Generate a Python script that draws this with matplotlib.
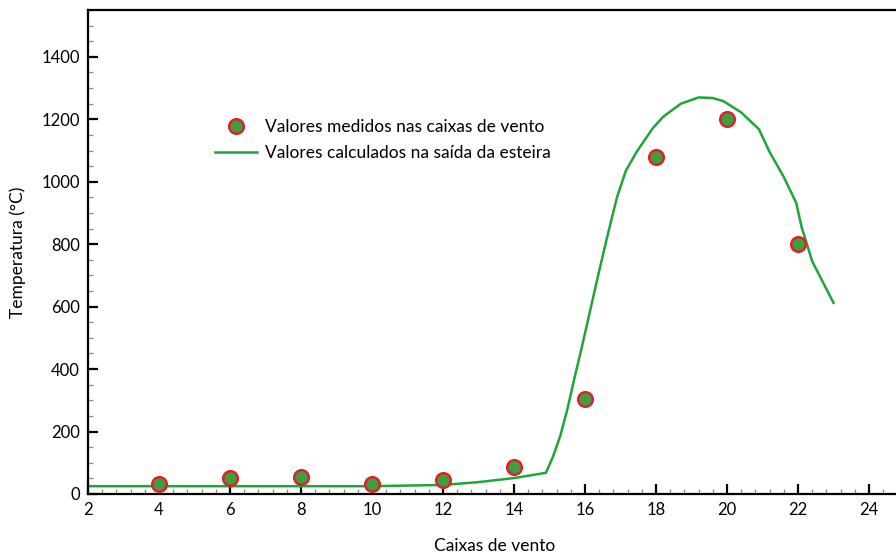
import numpy as np
import matplotlib.pyplot as plt
from matplotlib.ticker import MultipleLocator

plt.rcParams['font.family'] = ['Lato', 'DejaVu Sans']

# measured values at the wind boxes
box_x = [4, 6, 8, 10, 12, 14, 16, 18, 20, 22]
box_temp = [32, 51, 54, 32, 45, 86, 304, 1080, 1200, 801]

# calculated values at the strand exit
calc_x = [2, 10, 12, 13, 14, 14.9, 15.1, 15.3, 15.5, 15.7, 15.9, 16.15, 16.4,
          16.65, 16.9, 17.15, 17.45, 17.9, 18.2, 18.7, 19.2, 19.6, 19.9, 20.4,
          20.9, 21.2, 21.6, 21.95, 22.1, 22.4, 23.0]
calc_temp = [25, 25, 29, 38, 51, 68, 120, 185, 270, 370, 465, 590, 715,
             835, 950, 1035, 1095, 1170, 1208, 1250, 1270, 1268, 1258, 1222,
             1168, 1095, 1015, 932, 855, 745, 612]

fig = plt.figure(figsize=(8.96, 5.52), dpi=100)
ax = fig.add_axes([88 / 896, 1 - 494 / 552, 1 - 88 / 896, (494 - 10) / 552])

ax.plot(calc_x, calc_temp, color='#1fa53a', lw=1.8,
        label='Valores calculados na saída da esteira', zorder=2)
ax.plot(box_x, box_temp, 'o', ms=10.5, mfc='#3f9e3f', mec='#e02228', mew=1.8,
        label='Valores medidos nas caixas de vento', zorder=3)

ax.set_xlim(2, 24.76)
ax.set_ylim(0, 1550)
ax.xaxis.set_major_locator(MultipleLocator(2))
ax.xaxis.set_minor_locator(MultipleLocator(0.4))
ax.yaxis.set_major_locator(MultipleLocator(200))
ax.yaxis.set_minor_locator(MultipleLocator(50))
ax.set_yticks(np.arange(0, 1401, 200))

ax.spines['right'].set_visible(False)
for side in ['left', 'bottom', 'top']:
    ax.spines[side].set_linewidth(1.6)

ax.tick_params(which='major', direction='in', length=7.5, width=1.6,
               color='black', labelsize=12, top=False, right=False)
ax.tick_params(axis='x', which='major', pad=6)
ax.tick_params(axis='y', which='major', pad=6)
ax.tick_params(which='minor', direction='in', length=3.5, width=0.9,
               color='#8a8a8a', top=False, right=False)

ax.set_xlabel('Caixas de vento', fontsize=12.5)
ax.set_ylabel('Temperatura (°C)', fontsize=12.5)
ax.xaxis.set_label_coords(0.503, -0.09)
ax.yaxis.set_label_coords(-0.077, 0.5)

handles, labels = ax.get_legend_handles_labels()
ax.legend(handles[::-1], labels[::-1], loc='upper left',
          bbox_to_anchor=((215 - 88) / 808, (494 - 119) / 484),
          frameon=False, fontsize=12.5, borderpad=0, borderaxespad=0,
          handlelength=2.4, handletextpad=0.5, labelspacing=0.6)

fig.savefig('out.png', dpi=100)
